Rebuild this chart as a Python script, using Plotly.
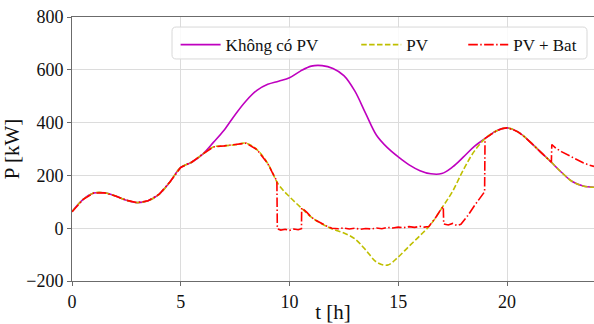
import plotly.graph_objects as go

# time grid (h)
t = [0, 0.5, 1.0, 1.5, 2.0, 2.5, 3.0, 3.5, 4.0, 4.5, 5.0, 5.5, 6.0, 6.5, 7.0, 7.5,
     8.0, 8.5, 9.0, 9.5, 10.0, 10.5, 11.0, 11.5, 12.0, 12.5, 13.0, 13.5, 14.0, 14.5,
     15.0, 15.5, 16.0, 16.5, 17.0, 17.5, 18.0, 18.5, 19.0, 19.5, 20.0, 20.5, 21.0,
     21.5, 22.0, 22.5, 23.0, 23.5, 24.0]

# Không có PV (load without PV), kW
p_load = [62, 108, 133, 134, 122, 106, 97, 104, 128, 175, 230, 250, 280, 325, 372, 430,
          482, 522, 545, 557, 570, 595, 614, 616, 605, 578, 520, 435, 352, 305,
          270, 240, 218, 206, 207, 232, 270, 310, 340, 368, 380, 365, 332,
          292, 253, 212, 177, 160, 155]

# PV, kW
p_pv = [62, 108, 133, 134, 122, 106, 97, 104, 128, 175, 230, 250, 280, 308, 312, 316,
        322, 298, 245, 165, 119, 80, 42, 16, -4, -18, -40, -82, -128, -140,
        -109, -68, -28, 15, 76, 140, 222, 292, 340, 368, 380, 365, 332,
        292, 253, 212, 177, 160, 155]

# PV + Bat, kW
t_bat = [0, 0.5, 1.0, 1.5, 2.0, 2.5, 3.0, 3.5, 4.0, 4.5, 5.0, 5.5, 6.0, 6.5, 7.0, 7.5,
         8.0, 8.5, 9.0, 9.2, 9.42, 9.44, 9.6, 9.8, 10.0, 10.2, 10.4, 10.55, 10.56,
         10.8, 11.0, 11.25, 11.5, 11.75, 11.95, 12.25, 12.5, 12.75, 13.0, 13.25, 13.5,
         13.75, 14.0, 14.25, 14.5, 14.75, 15.0, 15.25, 15.5, 15.75, 16.0, 16.2, 16.4,
         16.7, 17.0, 17.07, 17.09, 17.3, 17.5, 17.7, 17.88, 18.2, 18.5, 18.75, 18.97,
         18.99, 19.25, 19.5, 19.75, 20.0, 20.25, 20.5, 20.75, 21.0, 21.25, 21.5, 21.75,
         22.04, 22.06, 22.25, 22.5, 22.75, 23.0, 23.25, 23.5, 23.75, 24.0]
p_bat = [62, 108, 133, 134, 122, 106, 97, 104, 128, 175, 230, 250, 280, 308, 312, 316,
         322, 298, 245, 212, 178, -2, -7, -4, -8, -3, -6, -2, 77,
         60, 42, 28, 16, 6, 0, -2, 1, -3, 0, -4, -1,
         -3, 1, -2, 3, 1, 4, 2, 6, 3, 7, 4, 6,
         38, 76, 82, 16, 12, 18, 10, 15, 48, 85, 112, 138,
         340, 356, 368, 377, 380, 374, 365, 350, 332, 312, 292, 272,
         250, 317, 303, 290, 279, 268, 258, 248, 240, 234]

SERIF = "Times New Roman"

fig = go.Figure()
fig.add_trace(go.Scatter(x=t, y=p_load, mode="lines", name="Không có PV", legend="legend",
                         line=dict(color="#BF00BF", width=1.6, shape="spline", smoothing=1.0)))
fig.add_trace(go.Scatter(x=t, y=p_pv, mode="lines", name="PV", legend="legend2",
                         line=dict(color="#BFBF00", width=1.6, shape="spline", smoothing=1.0,
                                   dash="5.5px,2.4px")))
fig.add_trace(go.Scatter(x=t_bat, y=p_bat, mode="lines", name="PV + Bat", legend="legend3",
                         line=dict(color="#FF0000", width=1.6,
                                   dash="9.6px,2.4px,1.5px,2.4px")))

axis_common = dict(
    showgrid=True, gridcolor="#DCDCDC", gridwidth=1,
    showline=True, linecolor="#6B6B6B", linewidth=1, mirror=True,
    ticks="outside", ticklen=4, tickcolor="#6B6B6B",
    tickfont=dict(family=SERIF, size=18, color="#111111"),
    zeroline=False, automargin=False,
)

# legend frame (paper coordinates), rounded corners
x0, x1, y0, y1 = 0.1916, 0.9866, 0.841, 0.962
rx, ry = 0.008, 0.016
frame_path = (f"M{x0+rx},{y0} L{x1-rx},{y0} Q{x1},{y0} {x1},{y0+ry} "
              f"L{x1},{y1-ry} Q{x1},{y1} {x1-rx},{y1} L{x0+rx},{y1} "
              f"Q{x0},{y1} {x0},{y1-ry} L{x0},{y0+ry} Q{x0},{y0} {x0+rx},{y0} Z")

leg_common = dict(orientation="h", xanchor="left", y=0.962, yanchor="top",
                  bgcolor="rgba(0,0,0,0)", borderwidth=0,
                  font=dict(family=SERIF, size=17, color="#111111"), itemwidth=40)

fig.update_layout(
    width=594, height=324,
    margin=dict(l=72, r=0, t=17, b=43),
    paper_bgcolor="white", plot_bgcolor="white",
    font=dict(family=SERIF, color="#111111"),
    xaxis=dict(range=[0, 24], tickvals=[0, 5, 10, 15, 20],
               title=dict(text="t [h]", font=dict(family=SERIF, size=21), standoff=0),
               **axis_common),
    yaxis=dict(range=[-200, 800], tickvals=[-200, 0, 200, 400, 600, 800],
               title=dict(text="P [kW]", font=dict(family=SERIF, size=21), standoff=0),
               **axis_common),
    legend=dict(x=0.1985, **leg_common),
    legend2=dict(x=0.5445, **leg_common),
    legend3=dict(x=0.7495, **leg_common),
    shapes=[dict(type="path", path=frame_path, xref="paper", yref="paper",
                 fillcolor="rgba(255,255,255,0.85)", line=dict(color="#D8D8D8", width=1),
                 layer="above")],
    showlegend=True,
)

fig.write_html("out.html", config={"displayModeBar": False},
               post_script="document.body.style.margin='0';")
